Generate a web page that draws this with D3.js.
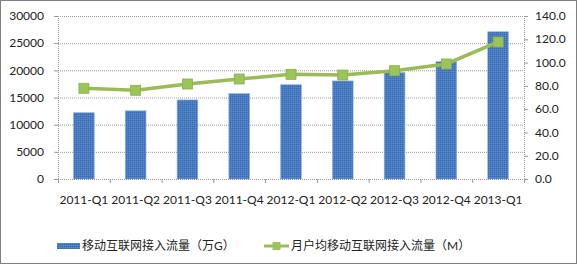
<!DOCTYPE html>
<html>
<head>
<meta charset="utf-8">
<script src="https://cdn.jsdelivr.net/npm/d3@7"></script>
<style>
  body { margin: 0; background: #fff; }
  text { font-family: Lato, "Noto Sans CJK SC", sans-serif; fill: #222; }
</style>
</head>
<body>
<div id="chart"></div>
<script>
const categories = ['2011-Q1', '2011-Q2', '2011-Q3', '2011-Q4', '2012-Q1', '2012-Q2', '2012-Q3', '2012-Q4', '2013-Q1'];
const trafficValues = [12200, 12550, 14550, 15700, 17350, 18050, 19600, 21600, 27100];
const perUserValues = [77.9, 76.2, 81.6, 85.9, 89.9, 89.3, 93.0, 98.8, 117.7];
const leftTicks = [0, 5000, 10000, 15000, 20000, 25000, 30000];
const rightTicks = [0, 20, 40, 60, 80, 100, 120, 140];
const seriesNames = ['移动互联网接入流量（万G）', '月户均移动互联网接入流量（M）'];

const width = 577, height = 264;
const margin = { top: 16, right: 53, bottom: 85, left: 58 };

const svg = d3.select('#chart').append('svg')
    .attr('width', width)
    .attr('height', height);

// 点状纹理
const defs = svg.append('defs');
const pat = defs.append('pattern')
    .attr('id', 'dots')
    .attr('width', 2).attr('height', 2)
    .attr('patternUnits', 'userSpaceOnUse');
pat.append('rect').attr('width', 2).attr('height', 2).attr('fill', '#4a7dc2');
pat.append('rect').attr('width', 1).attr('height', 1).attr('fill', '#3a68ae');
pat.append('rect').attr('x', 1).attr('y', 1).attr('width', 1).attr('height', 1).attr('fill', '#5588cc');

// 外框
svg.append('rect')
    .attr('x', 0.5).attr('y', 0.5)
    .attr('width', width - 1).attr('height', height - 1)
    .attr('fill', 'none')
    .attr('stroke', '#000')
    .attr('stroke-dasharray', '1,1');

const x = d3.scaleBand()
    .domain(categories)
    .range([margin.left, width - margin.right]);

const yLeft = d3.scaleLinear()
    .domain([0, 30000])
    .range([height - margin.bottom, margin.top]);

const yRight = d3.scaleLinear()
    .domain([0, 140])
    .range([height - margin.bottom, margin.top]);

const x0 = margin.left, x1 = width - margin.right;
const yBase = height - margin.bottom;

// 网格线
svg.append('g').selectAll('line')
    .data(leftTicks.slice(1))
    .join('line')
    .attr('x1', x0).attr('x2', x1)
    .attr('y1', d => yLeft(d) + 0.5).attr('y2', d => yLeft(d) + 0.5)
    .attr('stroke', '#999')
    .attr('stroke-dasharray', '1,1');

// 柱子
const barW = x.bandwidth() * 0.4;
svg.append('g').selectAll('rect')
    .data(trafficValues)
    .join('rect')
    .attr('x', (d, i) => x(categories[i]) + (x.bandwidth() - barW) / 2)
    .attr('y', d => yLeft(d))
    .attr('width', barW)
    .attr('height', d => yBase - yLeft(d))
    .attr('fill', 'url(#dots)')
    .attr('stroke', '#8fb0e0')
    .attr('stroke-width', 0.6);

// 左轴
svg.append('line')
    .attr('x1', x0 + 0.5).attr('x2', x0 + 0.5)
    .attr('y1', margin.top).attr('y2', yBase)
    .attr('stroke', '#999').attr('stroke-dasharray', '1,1');
svg.append('g').selectAll('line')
    .data(leftTicks)
    .join('line')
    .attr('x1', x0 - 4).attr('x2', x0)
    .attr('y1', d => yLeft(d) + 0.5).attr('y2', d => yLeft(d) + 0.5)
    .attr('stroke', '#999');
svg.append('g').selectAll('text')
    .data(leftTicks)
    .join('text')
    .attr('x', 44)
    .attr('y', d => yLeft(d))
    .attr('dy', '0.35em')
    .attr('text-anchor', 'end')
    .style('font-size', '12px')
    .text(d => d);

// 右轴
svg.append('line')
    .attr('x1', x1 + 0.5).attr('x2', x1 + 0.5)
    .attr('y1', margin.top).attr('y2', yBase)
    .attr('stroke', '#999').attr('stroke-dasharray', '1,1');
svg.append('g').selectAll('line')
    .data(rightTicks)
    .join('line')
    .attr('x1', x1).attr('x2', x1 + 4)
    .attr('y1', d => yRight(d) + 0.5).attr('y2', d => yRight(d) + 0.5)
    .attr('stroke', '#999');
svg.append('g').selectAll('text')
    .data(rightTicks)
    .join('text')
    .attr('x', 535)
    .attr('y', d => yRight(d))
    .attr('dy', '0.35em')
    .style('font-size', '12px')
    .text(d => d3.format('.1f')(d));

// 横轴
svg.append('line')
    .attr('x1', x0).attr('x2', x1)
    .attr('y1', yBase + 0.5).attr('y2', yBase + 0.5)
    .attr('stroke', '#999').attr('stroke-dasharray', '1,1');
const bounds = categories.map(c => x(c)).concat([x1]);
svg.append('g').selectAll('line')
    .data(bounds)
    .join('line')
    .attr('x1', d => d + 0.5).attr('x2', d => d + 0.5)
    .attr('y1', yBase).attr('y2', yBase + 4)
    .attr('stroke', '#999');
svg.append('g').selectAll('text')
    .data(categories)
    .join('text')
    .attr('x', d => x(d) + x.bandwidth() / 2)
    .attr('y', 204)
    .attr('text-anchor', 'middle')
    .style('font-size', '12px')
    .text(d => d);

// 折线
const line = d3.line()
    .x((d, i) => x(categories[i]) + x.bandwidth() / 2)
    .y(d => yRight(d));
svg.append('path')
    .datum(perUserValues)
    .attr('fill', 'none')
    .attr('stroke', '#9bbb59')
    .attr('stroke-width', 3.5)
    .attr('d', line);
svg.append('g').selectAll('rect')
    .data(perUserValues)
    .join('rect')
    .attr('x', (d, i) => x(categories[i]) + x.bandwidth() / 2 - 5)
    .attr('y', d => yRight(d) - 5)
    .attr('width', 10).attr('height', 10)
    .attr('fill', '#9bc55a')
    .attr('stroke', '#8ab04a')
    .attr('stroke-width', 0.8);

// 图例
const legY = 246;
svg.append('rect')
    .attr('x', 57).attr('y', legY - 3)
    .attr('width', 23).attr('height', 6)
    .attr('fill', 'url(#dots)');
svg.append('text')
    .attr('x', 82).attr('y', legY)
    .attr('dy', '0.35em')
    .style('font-size', '12px')
    .text(seriesNames[0]);
svg.append('line')
    .attr('x1', 264).attr('x2', 289)
    .attr('y1', legY).attr('y2', legY)
    .attr('stroke', '#9bbb59').attr('stroke-width', 3);
svg.append('rect')
    .attr('x', 272.5).attr('y', legY - 4)
    .attr('width', 8).attr('height', 8)
    .attr('fill', '#9bc55a');
svg.append('text')
    .attr('x', 291).attr('y', legY)
    .attr('dy', '0.35em')
    .style('font-size', '12px')
    .text(seriesNames[1]);
</script>
</body>
</html>
